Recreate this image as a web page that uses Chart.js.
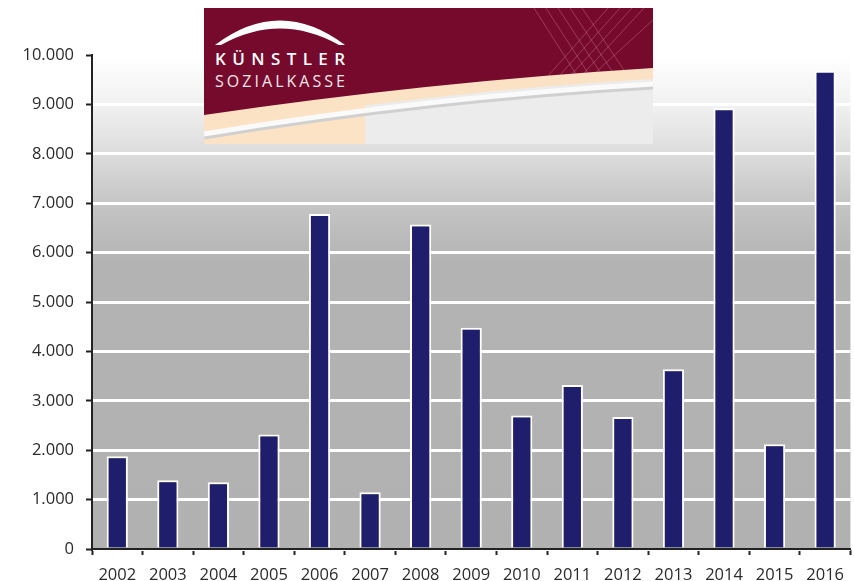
<!DOCTYPE html>
<html lang="de">
<head>
<meta charset="utf-8">
<title>Künstlersozialkasse</title>
<script src="https://cdn.jsdelivr.net/npm/chart.js@4/dist/chart.umd.min.js"></script>
<style>
    body { margin: 0; background: #fff; }
    #wrap { position: relative; width: 854px; height: 581px; }
    #logo { position: absolute; left: 204px; top: 8px; }
</style>
</head>
<body>
<div id="wrap">
    <canvas id="barChart" width="854" height="581"></canvas>
    <!-- KSK banner -->
    <svg id="logo" width="449" height="136" viewBox="0 0 449 136">
        <rect x="0" y="0" width="449" height="136" fill="#ececec"/>
        <rect x="0" y="0" width="161" height="136" fill="#fce3c6"/>
        <path d="M0 0 H449 V71 Q224 84 0 121 Z" fill="#fbe2c5"/>
        <path d="M0 128 Q224 91 449 78" fill="none" stroke="#d0d0d0" stroke-width="7"/>
        <path d="M0 126 Q224 89 449 76" fill="none" stroke="#fafafa" stroke-width="5"/>
        <path d="M0 0 H449 V60 Q224 74 0 107 Z" fill="#750a2d"/>
        <g stroke="rgba(230,150,170,0.35)" stroke-width="1">
            <line x1="330" y1="0" x2="372" y2="66"/>
            <line x1="342" y1="0" x2="384" y2="65"/>
            <line x1="354" y1="0" x2="396" y2="64"/>
            <line x1="366" y1="0" x2="408" y2="63"/>
            <line x1="378" y1="0" x2="420" y2="62"/>
            <line x1="440" y1="0" x2="380" y2="65"/>
            <line x1="428" y1="0" x2="368" y2="66"/>
            <line x1="416" y1="0" x2="356" y2="67"/>
            <line x1="404" y1="0" x2="344" y2="68"/>
            <line x1="449" y1="12" x2="392" y2="64"/>
        </g>
        <path d="M11 37 Q76 -12 141 37 L135 37 Q76 4 17 37 Z" fill="#ffffff"/>
        <text x="11" y="57" textLength="130" lengthAdjust="spacing"
              font-family="Open Sans, sans-serif" font-size="17" font-weight="600" fill="#ffffff">KÜNSTLER</text>
        <text x="11" y="79" textLength="130" lengthAdjust="spacing"
              font-family="Open Sans, sans-serif" font-size="16" fill="#f4e6ea">SOZIALKASSE</text>
    </svg>
</div>
<script>
// Jahre und Werte
const years = ['2002', '2003', '2004', '2005', '2006', '2007', '2008', '2009',
               '2010', '2011', '2012', '2013', '2014', '2015', '2016'];
const counts = [1880, 1390, 1350, 2320, 6780, 1150, 6570, 4480,
                2700, 3320, 2670, 3640, 8920, 2120, 9680];

// Plot background: white fading into grey
const bgPlugin = {
    id: 'plotBg',
    beforeDraw(chart) {
        const { ctx, chartArea: a } = chart;
        const g = ctx.createLinearGradient(0, a.top, 0, a.bottom);
        g.addColorStop(0, '#ffffff');
        g.addColorStop(0.1, '#f1f1f1');
        g.addColorStop(0.2, '#dcdcdc');
        g.addColorStop(0.3, '#c5c5c5');
        g.addColorStop(0.42, '#b3b3b3');
        g.addColorStop(1, '#b1b1b1');
        ctx.save();
        ctx.fillStyle = g;
        ctx.fillRect(a.left, a.top, a.right - a.left, a.bottom - a.top);
        ctx.restore();
    }
};

const tickFont = { family: "'Open Sans', sans-serif", size: 16.5 };

new Chart(document.getElementById('barChart'), {
    type: 'bar',
    data: {
        labels: years,
        datasets: [{
            data: counts,
            backgroundColor: '#1f1e6d',
            borderColor: '#ffffff',
            borderWidth: 2,
            categoryPercentage: 1,
            barPercentage: 0.42
        }]
    },
    options: {
        responsive: false,
        animation: false,
        layout: { padding: { top: 55, right: 0, left: 0, bottom: 0 } },
        plugins: { legend: { display: false }, tooltip: { enabled: false } },
        scales: {
            x: {
                afterFit: s => { s.height = 32; },
                grid: {
                    drawOnChartArea: false,
                    tickLength: 6,
                    tickColor: '#222',
                    tickWidth: 2
                },
                border: { color: '#222', width: 2 },
                ticks: { color: '#2b2b2b', font: tickFont, padding: 10, maxRotation: 0 }
            },
            y: {
                min: 0,
                max: 10000,
                afterFit: s => { s.width = 92; },
                grid: {
                    color: '#ffffff',
                    lineWidth: 3,
                    tickLength: 6,
                    tickColor: '#222',
                    tickWidth: 2
                },
                border: { color: '#222', width: 2 },
                ticks: {
                    stepSize: 1000,
                    color: '#2b2b2b',
                    font: tickFont,
                    padding: 12,
                    callback: v => v.toLocaleString('de-DE')
                }
            }
        }
    },
    plugins: [bgPlugin]
});
</script>
</body>
</html>
